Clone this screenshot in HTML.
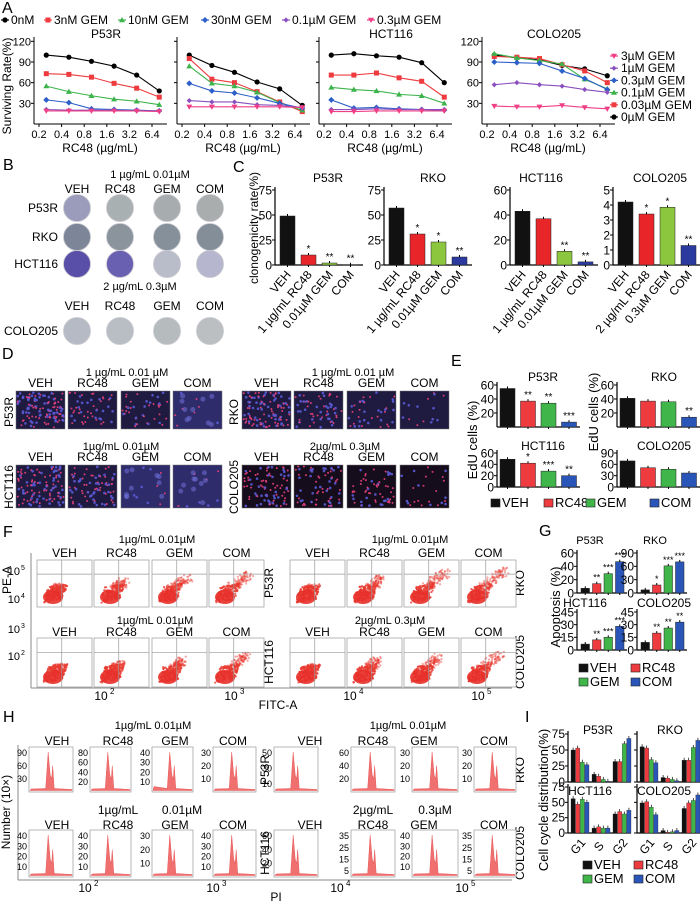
<!DOCTYPE html>
<html><head><meta charset="utf-8">
<style>
html,body{margin:0;padding:0;background:#fff;}
svg{display:block;font-family:"Liberation Sans",Arial,sans-serif;}
</style></head>
<body>
<svg id="fig" width="700" height="904" viewBox="0 0 700 904" xmlns="http://www.w3.org/2000/svg"></svg>
<script>
// ---------- DATA ----------
const aDoses=[0.25,0.5,1,2,4,8];
const aTickVals=[0.2,0.4,0.8,1.6,3.2,6.4];
const aTickLabels=['0.2','0.4','0.8','1.6','3.2','6.4'];
const aTicksY=[30,60,90,120];
const aSeriesNames=['0nM','3nM GEM','10nM GEM','30nM GEM','0.1µM GEM','0.3µM GEM'];
const aColoNames=['3µM GEM','1µM GEM','0.3µM GEM','0.1µM GEM','0.03µM GEM','0µM GEM'];
const aP53R=[[100,97,91,84,71,48],[73,72,68,59,52,39],[55,47,41,36,33,28],[35,31,22,21,20,19],[21,20,20,20,19,19],[19,19,19,19,19,18]];
const aRKO=[[100,85,75,61,51,27],[95,65,60,47,32,18],[84,59,55,46,31,20],[59,48,45,38,30,23],[34,32,32,28,27,24],[25,25,25,25,25,24]];
const aHCT=[[100,102,99,97,89,60],[71,71,74,67,62,39],[53,50,48,43,41,30],[35,23,24,22,21,20],[21,21,22,21,21,21],[18,18,19,19,19,19]];
const aCOLO=[[100,96,93,85,80,70],[98,97,95,86,77,60],[102,96,92,87,65,51],[90,89,88,77,66,50],[57,60,57,55,50,46],[26,25,25,27,24,22]];

const cP53R=[49,10,2,0.3], cRKO=[57,31,23,8], cHCT=[43,37,11,2.5], cCOLO=[4.2,3.4,3.85,1.3];
const cStarsP53R=['','*','**','**'], cStarsRKO=['','*','*','**'], cStarsHCT=['','','**','**'], cStarsCOLO=['','*','*','**'];

const eP53R=[55,37,34,7], eRKO=[41,37,36,14], eHCT=[49,42,28,20], eCOLO=[69,51,47,37];
const eStarsP53R=['','**','**','***'], eStarsRKO=['','','','**'], eStarsHCT=['','*','***','**'], eStarsCOLO=['','','',''];

const gP53R=[7,14,29,47], gRKO=[7,18,61,70], gHCT=[7,12,15,28], gCOLO=[9,20,26,33];
const gStarsP53R=['','**','***','***'], gStarsRKO=['','*','***','***'], gStarsHCT=['','**','***','***'], gStarsCOLO=['','**','**','**'];

const iP53R=[[50,53,31,27],[12,9,4,1],[32,32,60,68]];
const iRKO=[[55,53,35,30],[7,6,4,2],[34,34,54,65]];
const iHCT=[[56,47,55,50],[8,10,8,8],[31,35,31,37]];
const iCOLO=[[49,51,42,30],[4,1,2,4],[40,49,53,62]];
const iGroups=['G1','S','G2'];

const hTicks=[[90,60,30],[80,60,40,20],[40,30,20,10],[30,20,10],[50,30,10],[60,40,20],[30,20,10],[30,20,10],
              [40,30,20,10],[40,30,20,10],[30,20,10],[40,30,20,10],[60,40,20],[35,25,15,5],[40,30,20,10],[35,25,15,5]];

// ---------- HELPERS ----------
const svg=document.getElementById('fig');
const NS='http://www.w3.org/2000/svg';
function el(t,a,p){const e=document.createElementNS(NS,t);for(const k in a)e.setAttribute(k,a[k]);(p||svg).appendChild(e);return e;}
function tag(e,n){
  
  
  return e;}
function txt(x,y,s,fs,o){o=o||{};const e=el('text',{x:x,y:y,'font-size':fs,'text-anchor':o.a||'middle',fill:o.c||'#000'});
  if(o.r!==undefined)e.setAttribute('transform','rotate('+o.r+' '+x+' '+y+')');
  if(o.w)e.setAttribute('font-weight',o.w);
  e.textContent=s;return e;}
function line(x1,y1,x2,y2,c,w){return el('line',{x1:x1,y1:y1,x2:x2,y2:y2,stroke:c||'#000','stroke-width':w||1});}
let seed=12345;function rnd(){seed=(seed*1103515245+12345)%2147483648;return seed/2147483648;}
const COLS=['#000','#ee3b3f','#3cb44b','#2c5fc7','#8a4fbe','#ef3f86'];
const BARC=['#111','#e8262a','#8cc63f','#2a3a9f'];
const BARC2=['#111','#ee3b3f','#3fb54a','#2a55b8'];

// ---------- PANEL LETTERS ----------
[['A',2,13],['B',3,170],['C',233,172],['D',2,359],['E',451,366],['F',3,537],['G',539,536],['H',3,722],['I',525,722]].forEach(p=>{
  const t=txt(p[1],p[2],p[0],16,{a:'start'});
  tag(t,'panel-label-'+p[0].toLowerCase());});

// ---------- PANEL A ----------
function marker(g,k,x,y,c){let m;
  if(k===0)m=el('circle',{cx:x,cy:y,r:2.6,fill:c},g);
  else if(k===1)m=el('rect',{x:x-2.5,y:y-2.5,width:5,height:5,fill:c},g);
  else if(k===2)m=el('polygon',{points:(x)+','+(y-3)+' '+(x+3)+','+(y+2.2)+' '+(x-3)+','+(y+2.2),fill:c},g);
  else if(k===3)m=el('polygon',{points:x+','+(y-3)+' '+(x+3)+','+y+' '+x+','+(y+3)+' '+(x-3)+','+y,fill:c},g);
  else if(k===4)m=el('polygon',{points:x+','+(y-2.6)+' '+(x+2.6)+','+y+' '+x+','+(y+2.6)+' '+(x-2.6)+','+y,fill:c},g);
  else m=el('polygon',{points:(x-3)+','+(y-2.2)+' '+(x+3)+','+(y-2.2)+' '+x+','+(y+3),fill:c},g);
  return m;}
const legA=tag(el('g',{}),'legend-a');
[[4,'0nM'],[47,'3nM GEM'],[121,'10nM GEM'],[204,'30nM GEM'],[285,'0.1µM GEM'],[370,'0.3µM GEM']].forEach((p,i)=>{
  const g=tag(el('g',{},legA),'legend-entry-'+i);
  g.appendChild(line(p[0]-3,20,p[0]+5,20,COLS[i],1.2));
  marker(g,i,p[0]+1,20,COLS[i]);
  const t=txt(p[0]+7,24,p[1],12,{a:'start'});g.appendChild(t);});
const ys=txt(11,86,'Surviving Rate(%)',12,{r:-90});tag(ys,'y-axis-title-a');

function linePlot(ax,title,data,showY,kind,pname){
  const g=tag(el('g',{}),'line-chart-'+pname);
  const xm=v=>ax+5+22.6*Math.log2(v/0.2);
  const ym=v=>124-v*0.689;
  g.appendChild(line(ax,37,ax,124,'#000',1));
  g.appendChild(line(ax,124,ax+133,124,'#000',1));
  aTicksY.forEach(t=>{g.appendChild(line(ax-3,ym(t),ax,ym(t)));
    if(showY){const l=txt(ax-3,ym(t)+4,String(t),11,{a:'end'});g.appendChild(l);}});
  aTickVals.forEach((v,i)=>{g.appendChild(line(xm(v),124,xm(v),127));
    const l=txt(xm(v),138,aTickLabels[i],11);g.appendChild(l);});
  const xt=txt(ax+66,152,'RC48 (µg/mL)',12);g.appendChild(xt);
  if(title){const tt=txt(ax+72,38,title,12);g.appendChild(tt);}
  data.forEach((s,k)=>{
    const pts=s.map((v,i)=>xm(aDoses[i])+','+ym(v)).join(' ');
    const pl=el('polyline',{points:pts,fill:'none',stroke:COLS[k],'stroke-width':1.1},g);
    
    
    s.forEach((v,i)=>{const m=marker(g,k,xm(aDoses[i]),ym(v),COLS[k]);
      
      });
  });}
linePlot(34,'P53R',aP53R,true,'','p53r');
linePlot(177,'',aRKO,false,'','rko');
linePlot(319,'HCT116',aHCT,false,'','hct116');
linePlot(482,'COLO205',aCOLO,true,'colo','colo205');
const legA2=tag(el('g',{}),'legend-colo205');
const ordIdx=[5,4,3,2,1,0];
aColoNames.forEach((n,i)=>{const y=56+i*12.2;const k=ordIdx[i];
  const g=tag(el('g',{},legA2),'legend-colo-entry-'+i);
  g.appendChild(line(610,y,618,y,COLS[k],1.2));marker(g,k,614,y,COLS[k]);
  g.appendChild(txt(621,y+4,n,12,{a:'start'}));});

// ---------- PANEL B ----------
const B=tag(el('g',{}),'clonogenic-dishes');
B.appendChild(txt(150,178,'1 µg/mL  0.01µM',11));
const bx=[77,120,167,210];
['VEH','RC48','GEM','COM'].forEach((s,i)=>{B.appendChild(txt(bx[i],193,s,12));B.appendChild(txt(bx[i],310,s,12));});
B.appendChild(txt(140,290,'2 µg/mL  0.3µM',11));
const dishRows=[['P53R',208,['#9b9bbb','#a9b0b2','#a7adae','#a9adae']],['RKO',237,['#7d8698','#8b949c','#85909a','#848e98']],
  ['HCT116',264,['#5a4fa8','#6a60b2','#b9bdca','#b6b6cf']],['COLO205',331,['#b6bac4','#b9bdc4','#b6bbbe','#bbbfc2']]];
dishRows.forEach(r=>{B.appendChild(txt(58,r[1]+4,r[0],12,{a:'end'}));
  r[2].forEach((c,i)=>{const d=el('circle',{cx:bx[i],cy:r[1],r:13.5,fill:c,stroke:'#c8c8d0','stroke-width':0.8},B);
    
    });});

// ---------- BAR CHART GENERIC ----------
function barChart(o){
  const g=tag(el('g',{}),o.name);
  const ym=v=>o.y0-(v/o.vmax)*(o.y0-o.ytop);
  g.appendChild(line(o.ax,o.ytop-3,o.ax,o.y0,'#000',1.2));
  g.appendChild(line(o.ax,o.y0,o.ax+o.xlen,o.y0,'#000',1.2));
  o.ticks.forEach(t=>{g.appendChild(line(o.ax-3,ym(t),o.ax,ym(t),'#000',1));
    if(o.showT!==false)g.appendChild(txt(o.ax-3,ym(t)+o.fs*0.36,String(t),o.fs,{a:'end'}));});
  o.vals.forEach((v,i)=>{const x=o.ax+o.off+i*o.step;
    const r=el('rect',{x:x,y:ym(v),width:o.bw,height:o.y0-ym(v),fill:o.colors[i],stroke:'#222','stroke-width':0.5},g);
    
    
    g.appendChild(line(x+o.bw/2,ym(v),x+o.bw/2,ym(v)-2));
    if(o.stars&&o.stars[i])g.appendChild(txt(x+o.bw/2,ym(v)-3,o.stars[i],o.sfs||10));
    g.appendChild(line(x+o.bw/2,o.y0,x+o.bw/2,o.y0+2));});
  if(o.title)g.appendChild(txt(o.tx,o.ty,o.title,o.tfs||12));
  if(o.labels)o.labels.forEach((s,i)=>{const x=o.ax+o.off+i*o.step+o.bw/2+4;
    g.appendChild(txt(x,o.y0+10,s,12,{a:'end',r:-50}));});
  return g;}

// ---------- PANEL C ----------
const cl1=['VEH','1 µg/mL RC48','0.01µM GEM','COM'], cl2=['VEH','2 µg/mL RC48','0.3µM GEM','COM'];
barChart({name:'bar-chart-c-p53r',ax:275,y0:265,ytop:190,vmax:75,ticks:[0,25,50,75],vals:cP53R,colors:BARC,bw:15,step:21,off:5,xlen:88,fs:12,stars:cStarsP53R,title:'P53R',tx:328,ty:182,labels:cl1});
barChart({name:'bar-chart-c-rko',ax:384,y0:265,ytop:190,vmax:75,ticks:[0,25,50,75],vals:cRKO,colors:BARC,bw:15,step:21,off:5,xlen:88,fs:12,stars:cStarsRKO,title:'RKO',tx:433,ty:182,labels:cl1});
barChart({name:'bar-chart-c-hct116',ax:510,y0:265,ytop:190,vmax:60,ticks:[0,20,40,60],vals:cHCT,colors:BARC,bw:15,step:21,off:5,xlen:88,fs:12,stars:cStarsHCT,title:'HCT116',tx:541,ty:182,labels:cl1});
barChart({name:'bar-chart-c-colo205',ax:613,y0:265,ytop:190,vmax:5,ticks:[0,1,2,3,4,5],vals:cCOLO,colors:BARC,bw:15,step:21,off:5,xlen:88,fs:12,stars:cStarsCOLO,title:'COLO205',tx:660,ty:182,labels:cl2});
tag(txt(258,228,'clonogenicity rate(%)',12,{r:-90}),'y-axis-title-c');

// ---------- PANEL D ----------
const D=tag(el('g',{}),'edu-images');
D.appendChild(txt(127,376,'1 µg/mL   0.01 µM',11));D.appendChild(txt(353,376,'1 µg/mL   0.01 µM',11));
D.appendChild(txt(121,450,'1µg/mL   0.01µM',11));D.appendChild(txt(345,450,'2µg/mL   0.3µM',11));
const dX=[16,68,121,173,242,294,347,400];
const dDens=[[120,50,40,8],[110,60,40,15],[110,80,10,8],[90,70,60,25]];
const dHaze=[[0,0,0,1],[0,0,0,0],[0,0,1,1],[0,0,0,0]];
['VEH','RC48','GEM','COM'].forEach((s,i)=>{D.appendChild(txt(dX[i]+24.5,387,s,12));D.appendChild(txt(dX[i+4]+24.5,387,s,12));
  D.appendChild(txt(dX[i]+24.5,461,s,12));D.appendChild(txt(dX[i+4]+24.5,461,s,12));});
D.appendChild(txt(13,412,'P53R',12,{r:-90}));D.appendChild(txt(238,412,'RKO',12,{r:-90}));
D.appendChild(txt(13,487,'HCT116',12,{r:-90}));D.appendChild(txt(238,487,'COLO205',12,{r:-90}));
dX.forEach((x,i)=>{[[391,38,0],[465,43,1]].forEach(r=>{
  const row=r[2]*2+(i>=4?1:0), col=i%4;
  const g=tag(el('g',{},D),'micrograph');
  const haze=dHaze[row][col];
  el('rect',{x:x,y:r[0],width:49,height:r[1],fill:haze?'#2e2c6a':(row===3?'#150c1c':'#1e1a40'),stroke:'#777','stroke-width':0.5},g);
  const n=dDens[row][col];
  for(let k=0;k<n;k++){const px=x+1.5+rnd()*46,py=r[0]+1.5+rnd()*(r[1]-3);const pink=rnd()<0.55;
    el('circle',{cx:px,cy:py,r:pink?1:1.3,fill:pink?'#e8407a':'#5a5ad6','fill-opacity':0.9},g);}
  if(haze)for(let k=0;k<10;k++)el('circle',{cx:x+4+rnd()*41,cy:r[0]+4+rnd()*(r[1]-8),r:2.5,fill:'#6a6ad0','fill-opacity':0.6},g);
});});

// ---------- PANEL E ----------
barChart({name:'bar-chart-e-p53r',ax:497,y0:427,ytop:385,vmax:60,ticks:[20,40,60],vals:eP53R,colors:BARC2,bw:15,step:20.5,off:3,xlen:83,fs:12,stars:eStarsP53R,title:'P53R',tx:543,ty:381});
barChart({name:'bar-chart-e-rko',ax:617,y0:427,ytop:385,vmax:60,ticks:[20,40,60],vals:eRKO,colors:BARC2,bw:15,step:20.5,off:3,xlen:83,fs:12,stars:eStarsRKO,title:'RKO',tx:664,ty:381});
barChart({name:'bar-chart-e-hct116',ax:497,y0:487,ytop:453,vmax:60,ticks:[0,20,40,60],vals:eHCT,colors:BARC2,bw:15,step:20.5,off:3,xlen:83,fs:12,stars:eStarsHCT,title:'HCT116',tx:543,ty:450});
barChart({name:'bar-chart-e-colo205',ax:617,y0:487,ytop:453,vmax:90,ticks:[0,30,60,90],vals:eCOLO,colors:BARC2,bw:15,step:20.5,off:3,xlen:83,fs:12,stars:eStarsCOLO,title:'COLO205',tx:664,ty:450});
tag(txt(477,440,'EdU cells (%)',13,{r:-90}),'y-axis-title-e');
tag(txt(598,412,'EdU cells (%)',13,{r:-90}),'y-axis-title-e2');
function legend(items,name){const g=tag(el('g',{}),name);
  items.forEach((it,i)=>{const e=tag(el('g',{},g),'legend-entry-'+it[3].toLowerCase());
    el('rect',{x:it[0],y:it[1]-8,width:9,height:8,fill:it[2],stroke:'#222','stroke-width':0.6},e);
    e.appendChild(txt(it[0]+11,it[1],it[3],13,{a:'start'}));});}
legend([[491,507,'#111','VEH'],[544,507,'#ee3b3f','RC48'],[586,507,'#3fb54a','GEM'],[650,507,'#2a55b8','COM']],'legend-e');

// ---------- PANEL F ----------
const F=tag(el('g',{}),'flow-cytometry');
F.appendChild(txt(157,543,'1µg/mL        0.01µM',11));F.appendChild(txt(410,543,'1µg/mL        0.01µM',11));
F.appendChild(txt(155,624,'1µg/mL        0.01µM',11));F.appendChild(txt(390,624,'2µg/mL        0.3µM',11));
const fX=[37,94,152,209,290,347,404,461];
['VEH','RC48','GEM','COM'].forEach((s,i)=>{F.appendChild(txt(fX[i]+27.5,557,s,12));F.appendChild(txt(fX[i+4]+27.5,557,s,12));
  F.appendChild(txt(fX[i]+27.5,636,s,12));F.appendChild(txt(fX[i+4]+27.5,636,s,12));});
F.appendChild(line(31,553,31,688,'#888',1));F.appendChild(line(31,688,512,688,'#888',1));
F.appendChild(txt(273,583,'P53R',12,{r:-90}));F.appendChild(txt(524,583,'RKO',12,{r:-90}));
F.appendChild(txt(273,662,'HCT116',12,{r:-90}));F.appendChild(txt(524,662,'COLO205',12,{r:-90}));
[['10','5',20,575],['10','4',20,603],['10','3',20,633],['10','2',20,660]].forEach(p=>{
  F.appendChild(txt(p[2],p[3],p[0],11,{a:'end'}));F.appendChild(txt(p[2]+1,p[3]-5,p[1],7,{a:'start'}));});
F.appendChild(txt(11,580,'PE-A',12,{r:-90}));
[[101,'2'],[231,'3'],[350,'4'],[478,'5']].forEach(p=>{F.appendChild(txt(p[0],700,'10',12));F.appendChild(txt(p[0]+9,694,p[1],8,{a:'start'}));});
F.appendChild(txt(278,709,'FITC-A',12));
const fSpread=[[0.1,0.3,0.45,0.55],[0.1,0.4,0.6,0.7],[0.1,0.2,0.3,0.5],[0.1,0.3,0.4,0.55]];
fX.forEach((x,i)=>{[[560,47,0],[638,49,1]].forEach(r=>{
  const row=r[2]*2+(i>=4?1:0), col=i%4, w=55,h=r[1],y=r[0];
  const g=tag(el('g',{},F),'scatter-plot');
  el('rect',{x:x,y:y,width:w,height:h,fill:'#fff',stroke:'#999','stroke-width':0.7},g);
  const sp=fSpread[row][col];
  for(let k=0;k<260;k++){const t=rnd();const u=rnd(),v=rnd();
    let px,py;
    if(t<0.55){px=x+6+u*20+v*5;py=y+h-4-v*16-u*4;}
    else{const s=rnd()*sp;px=x+14+s*38+u*10;py=y+h-12-s*h*0.65-v*9;}
    px=Math.min(x+w-2,px);py=Math.max(y+2,py);
    el('circle',{cx:px,cy:py,r:1.1,fill:'#e83a30','fill-opacity':t<0.55?0.8:0.45},g);}
  el('ellipse',{cx:x+16,cy:y+h-10,rx:10,ry:7,fill:'#e8302a','fill-opacity':0.9},g);
  g.appendChild(line(x+w*0.45,y,x+w*0.45,y+h,'#999',0.7));g.appendChild(line(x,y+h*0.3,x+w,y+h*0.3,'#999',0.7));
});});

// ---------- PANEL G ----------
barChart({name:'bar-chart-g-p53r',ax:577,y0:593,ytop:553,vmax:60,ticks:[0,20,40,60],vals:gP53R,colors:BARC2,bw:8.5,step:11.5,off:4,xlen:50,fs:12,stars:gStarsP53R,sfs:9,title:'P53R',tx:590,ty:544,tfs:11});
barChart({name:'bar-chart-g-rko',ax:637,y0:593,ytop:553,vmax:90,ticks:[0,30,60,90],vals:gRKO,colors:BARC2,bw:8.5,step:11.5,off:4,xlen:50,fs:12,stars:gStarsRKO,sfs:9,title:'RKO',tx:655,ty:544,tfs:11});
barChart({name:'bar-chart-g-hct116',ax:577,y0:650,ytop:612,vmax:45,ticks:[0,15,30,45],vals:gHCT,colors:BARC2,bw:8.5,step:11.5,off:4,xlen:50,fs:12,stars:gStarsHCT,sfs:9,title:'HCT116',tx:585,ty:607,tfs:12});
barChart({name:'bar-chart-g-colo205',ax:637,y0:650,ytop:612,vmax:45,ticks:[0,15,30,45],vals:gCOLO,colors:BARC2,bw:8.5,step:11.5,off:4,xlen:50,fs:12,stars:gStarsCOLO,sfs:9,title:'COLO205',tx:664,ty:607,tfs:12});
tag(txt(560,607,'Apoptosis (%)',13,{r:-90}),'y-axis-title-g');
legend([[579,672,'#111','VEH'],[631,672,'#ee3b3f','RC48'],[579,686,'#3fb54a','GEM'],[631,686,'#2a55b8','COM']],'legend-g');

// ---------- PANEL H ----------
const H=tag(el('g',{}),'cell-cycle-histograms');
H.appendChild(txt(153,729,'1µg/mL        0.01µM',11));H.appendChild(txt(408,729,'1µg/mL        0.01µM',11));
[[118,'1µg/mL'],[182,'0.01µM'],[373,'2µg/mL'],[435,'0.3µM']].forEach(p=>H.appendChild(txt(p[0],814,p[1],12)));
const hX=[[29,44],[90,41],[152,41],[213,43],[274,44],[351,44],[412,46],[474,42]];
const hl=[57,118,175,233,310,373,424,494];
['VEH','RC48','GEM','COM'].forEach((s,i)=>{H.appendChild(txt(hl[i],745,s,12));H.appendChild(txt(hl[i+4],745,s,12));
  H.appendChild(txt(hl[i],829,s,12));H.appendChild(txt(hl[i+4],829,s,12));});
H.appendChild(line(18,745,18,880,'#888',1));H.appendChild(line(18,880,512,880,'#888',1));
H.appendChild(txt(269,770,'P53R',12,{r:-90}));H.appendChild(txt(524,770,'RKO',12,{r:-90}));
H.appendChild(txt(269,853,'HCT116',12,{r:-90}));H.appendChild(txt(524,853,'COLO205',12,{r:-90}));
H.appendChild(txt(10,812,'Number (10×)',12,{r:-90}));
[[85,'2'],[213,'3'],[337,'4'],[462,'5']].forEach(p=>{H.appendChild(txt(p[0],892,'10',12));H.appendChild(txt(p[0]+9,886,p[1],8,{a:'start'}));});
H.appendChild(txt(276,901,'PI',12));
hX.forEach((b,i)=>{[[747,45,0],[830,47,1]].forEach(r=>{
  const idx=r[2]*8+i, x=b[0], w=b[1], y=r[0], h=r[1];
  const g=tag(el('g',{},H),'histogram');
  el('rect',{x:x,y:y,width:w,height:h,fill:'#fff',stroke:'#999','stroke-width':0.7},g);
  const tk=hTicks[idx], mx=tk[0]*1.15;
  tk.forEach(t=>{const ty=y+h-(t/mx)*h;g.appendChild(txt(x-2,ty+3,String(t),9,{a:'end'}));});
  const p=x+w*0.47, yb=y+h-1.5;
  const d='M'+(x+1)+','+yb+' L'+(x+2)+','+(yb-(idx==2?4:1.5))+' L'+(p-4)+','+(yb-2)+' L'+(p-1.5)+','+(y+5)+' L'+(p+0.5)+','+(yb-h*0.35)+' L'+(p+2)+','+(yb-h*0.25)+' L'+(p+3)+','+(yb-h*0.55)+' L'+(p+4.5)+','+(yb-2)+' L'+(x+w-1)+','+(yb-1)+' L'+(x+w-1)+','+yb+' Z';
  el('path',{d:d,fill:'#f07070',stroke:'#e85a5a','stroke-width':0.5},g);
});});

// ---------- PANEL I ----------
function groupChart(ax,y0,ytop,vals,title,tx,ty,showT,showX,name){
  const g=tag(el('g',{}),name);
  const ym=v=>y0-(v/75)*(y0-ytop);
  g.appendChild(line(ax,ytop-3,ax,y0,'#000',1.2));g.appendChild(line(ax,y0,ax+63,y0,'#000',1.2));
  [0,25,50,75].forEach(t=>{g.appendChild(line(ax-3,ym(t),ax,ym(t)));if(showT)g.appendChild(txt(ax-3,ym(t)+4,String(t),12,{a:'end'}));});
  vals.forEach((grp,gi)=>{grp.forEach((v,bi)=>{const x=ax+3+gi*21+bi*4.6;
    const r=el('rect',{x:x,y:ym(v),width:4.2,height:y0-ym(v),fill:BARC2[bi],stroke:'#222','stroke-width':0.3},g);
    
    
    g.appendChild(line(x+2.1,ym(v),x+2.1,ym(v)-2.5,'#000',0.7));});
    if(showX)g.appendChild(txt(ax+13+gi*21,y0+16,iGroups[gi],12,{r:-50}));});
  g.appendChild(txt(tx,ty,title,12));}
groupChart(568,782,734,iP53R,'P53R',598,734,true,false,'bar-chart-i-p53r');
groupChart(637,782,734,iRKO,'RKO',670,734,false,false,'bar-chart-i-rko');
groupChart(568,833,787,iHCT,'HCT116',590,795,true,true,'bar-chart-i-hct116');
groupChart(637,833,787,iCOLO,'COLO205',664,795,false,true,'bar-chart-i-colo205');
tag(txt(548,800,'Cell cycle distribution(%)',13,{r:-90}),'y-axis-title-i');
legend([[583,869,'#111','VEH'],[634,869,'#ee3b3f','RC48'],[583,883,'#3fb54a','GEM'],[634,883,'#2a55b8','COM']],'legend-i');
</script>
</body></html>
